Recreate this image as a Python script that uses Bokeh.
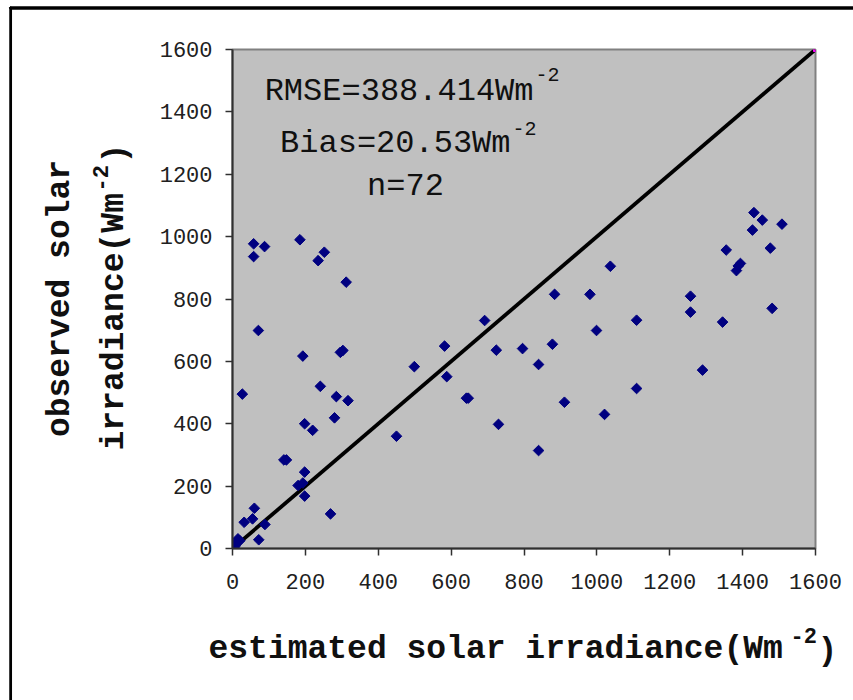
import math
from bokeh.plotting import figure
from bokeh.models import Range1d, FixedTicker, Label
from bokeh.embed import file_html
from bokeh.resources import INLINE

# ---------------- data ----------------
estimated = [58, 88, 58, 185, 252, 235, 312, 71, 193, 296, 303, 27, 241, 285, 317,
             280, 198, 220, 141, 148, 198, 180, 193, 198, 269, 60, 55, 32, 89, 72,
             15, 4, 10, 7, 20,
             884, 981, 692, 999, 582, 878, 724, 796, 499, 840, 588, 642, 647, 911,
             1021, 450, 730, 840,
             1431, 1454, 1508, 1427, 1355, 1476, 1394, 1388, 1383, 1037, 1257, 1257,
             1481, 1109, 1345, 1290, 1109]
observed = [977, 968, 936, 990, 950, 923, 854, 699, 617, 629, 635, 495, 520, 487, 474,
            419, 400, 379, 284, 284, 245, 202, 210, 168, 111, 129, 95, 84, 77, 28,
            31, 4, 17, 8, 25,
            815, 815, 731, 699, 649, 655, 636, 641, 583, 590, 551, 482, 482, 469,
            430, 360, 398, 314,
            1077, 1053, 1040, 1021, 957, 963, 914, 906, 891, 905, 809, 758,
            770, 732, 726, 572, 513]
line_x = [0, 1600]
line_y = [0, 1600]
ticks = [0, 200, 400, 600, 800, 1000, 1200, 1400, 1600]

# ---------------- layout helpers ----------------
W, H = 853, 700
FL, FR, FT, FB = 232, 815, 49, 548


def dx(px):
    return (px - FL) * 1600.0 / (FR - FL)


def dy(py):
    return (FB - py) * 1600.0 / (FB - FT)


MONO = "Liberation Mono"

p = figure(width=W, height=H, x_range=Range1d(0, 1600), y_range=Range1d(0, 1600),
           output_backend="svg", toolbar_location=None,
           min_border_left=FL, min_border_right=W - FR,
           min_border_top=FT, min_border_bottom=H - FB)
p.background_fill_color = "#C0C0C0"
p.border_fill_color = "white"
p.outline_line_color = "#808080"
p.outline_line_width = 2
p.xgrid.visible = False
p.ygrid.visible = False

for ax in (p.xaxis[0], p.yaxis[0]):
    ax.ticker = FixedTicker(ticks=ticks)
    ax.major_tick_out = 7
    ax.major_tick_in = 0
    ax.minor_tick_out = 0
    ax.minor_tick_in = 0
    ax.axis_line_color = "#303030"
    ax.axis_line_width = 2
    ax.major_tick_line_color = "#303030"
    ax.major_tick_line_width = 1.5
    ax.major_label_text_font = MONO
    ax.major_label_text_font_size = "22px"
    ax.major_label_text_color = "#202020"
p.xaxis.major_label_standoff = 18
p.yaxis.major_label_standoff = 13

# 1:1 line
p.line(line_x, line_y, line_color="black", line_width=3.8)
p.scatter(line_x, line_y, marker="square", size=4, color="#FF00FF")

# data points
p.scatter(estimated, observed, marker="square", angle=math.pi / 4, size=7.5,
          fill_color="#000080", line_color="#000080")


def lab(x, y, text, size, align="left", baseline="middle", bold=False, angle=0.0):
    p.add_layout(Label(x=dx(x), y=dy(y), text=text, text_font=MONO,
                       text_font_size=size, text_align=align,
                       text_baseline=baseline, angle=angle,
                       text_font_style="bold" if bold else "normal",
                       text_color="#101010"))


def clab(side, x, y, text, size, align="left", baseline="middle", bold=False, angle=0.0):
    # label positioned in canvas pixels, hosted in a side panel so it is not clipped
    p.add_layout(Label(x=x, y=y, x_units="canvas", y_units="canvas",
                       text=text, text_font=MONO,
                       text_font_size=size, text_align=align,
                       text_baseline=baseline, angle=angle,
                       text_font_style="bold" if bold else "normal",
                       text_color="#101010"), side)


# statistics text
lab(533, 91, "RMSE=388.414Wm", "32px", align="right")
lab(535, 74, "-2", "20px")
lab(510, 143, "Bias=20.53Wm", "32px", align="right")
lab(512, 128, "-2", "20px")
lab(405, 186, "n=72", "32px", align="center")

# x axis title
clab("below", 208, 649, "estimated solar irradiance(Wm", "33px", bold=True)
clab("below", 790, 635, "-2", "22px", bold=True)
clab("above", 817, 651, ")", "33px", bold=True)

# y axis title
clab("left", 60, 298, "observed solar", "33px", align="center", bold=True, angle=math.pi / 2)
clab("left", 114, 450, "irradiance(Wm", "33px", bold=True, angle=math.pi / 2)
clab("right", 100, 191, "-2", "22px", bold=True, angle=math.pi / 2)
clab("left", 116, 163, ")", "33px", bold=True, angle=math.pi / 2)

# outer chart frame (left and top edges; right/bottom fall outside the window)
p.add_layout(Label(x=10, y=7, x_units="canvas", y_units="canvas", text=" ",
                   text_font_size="1px", text_align="left", text_baseline="top",
                   padding=dict(left=0, right=0, top=0, bottom=760),
                   border_line_color="black", border_line_width=2.5), "left")
p.add_layout(Label(x=10, y=7, x_units="canvas", y_units="canvas", text=" ",
                   text_font_size="1px", text_align="left", text_baseline="top",
                   padding=dict(left=0, right=900, top=0, bottom=0),
                   border_line_color="black", border_line_width=2.5), "above")

open("out.html", "w").write(file_html(p, INLINE))
